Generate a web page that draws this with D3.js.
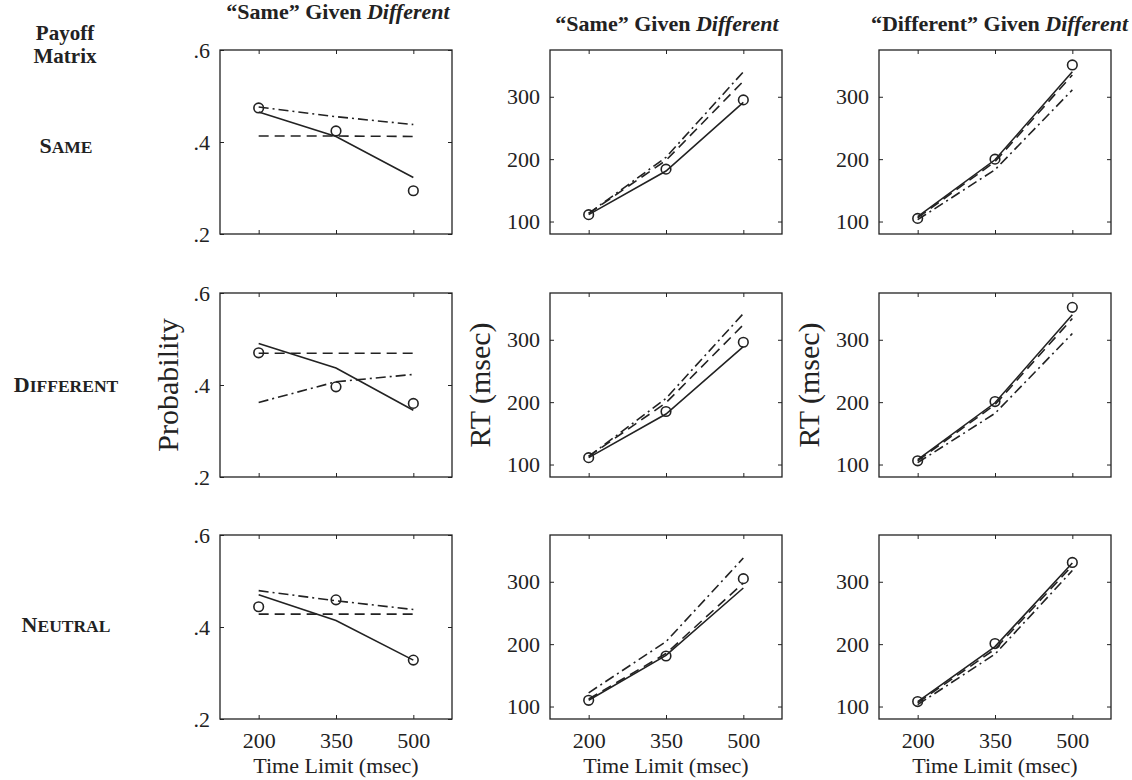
<!DOCTYPE html>
<html>
<head>
<meta charset="utf-8">
<script src="https://cdn.jsdelivr.net/npm/d3@7"></script>
<style>
  body { margin: 0; background: #fff; }
  svg text { font-family: "Liberation Serif", "Times New Roman", serif; fill: #222; }
</style>
</head>
<body>
<svg id="chart" width="1132" height="780"></svg>
<script>
const timeLimits = [200, 350, 500];
const payoffRows = ["Same", "Different", "Neutral"];
const columnTitles = [
  ["\u201CSame\u201D Given ", "Different"],
  ["\u201CSame\u201D Given ", "Different"],
  ["\u201CDifferent\u201D Given ", "Different"]
];
const probTicks = [0.2, 0.4, 0.6];
const rtTicks = [100, 200, 300];

// "Same" given different: probability (one row per payoff matrix)
const probObserved = [[0.474, 0.424, 0.294], [0.470, 0.396, 0.360], [0.444, 0.459, 0.328]];
const probSolid    = [[0.465, 0.412, 0.323], [0.490, 0.437, 0.345], [0.470, 0.414, 0.328]];
const probDashed   = [[0.413, 0.413, 0.412], [0.469, 0.469, 0.469], [0.428, 0.428, 0.428]];
const probDashDot  = [[0.476, 0.455, 0.438], [0.362, 0.407, 0.423], [0.479, 0.457, 0.438]];

// "Same" given different: RT
const rtSameObserved = [[111, 184, 295], [111, 185, 296], [110, 181, 305]];
const rtSameSolid    = [[111, 181, 291], [111, 181, 289], [110, 182, 290]];
const rtSameDashed   = [[113, 198, 325], [113, 199, 324], [112, 185, 298]];
const rtSameDashDot  = [[113, 203, 340], [113, 206, 342], [122, 204, 338]];

// "Different" given different: RT
const rtDiffObserved = [[105, 200, 351], [106, 201, 352], [108, 201, 331]];
const rtDiffSolid    = [[108, 199, 340], [108, 199, 340], [108, 196, 330]];
const rtDiffDashed   = [[106, 196, 335], [106, 196, 334], [106, 192, 326]];
const rtDiffDashDot  = [[103, 183, 311], [103, 182, 310], [103, 184, 318]];

const svg = d3.select("#chart");

const colLeft = [220, 550, 879];
const rowTop = [50, 293, 535];
const panelW = 232;
const panelH = 184;
const ink = "#222";

const x = d3.scaleLinear().domain([125, 575]).range([0, panelW]);
const yProb = d3.scaleLinear().domain([0.2, 0.6]).range([panelH, 0]);
const yRT = d3.scaleLinear().domain([80, 375]).range([panelH, 0]);

const columns = [
  { y: yProb, ticks: probTicks, fmt: d => d3.format(".1f")(d).replace(/^0/, ""),
    obs: probObserved, solid: probSolid, dashed: probDashed, dashdot: probDashDot },
  { y: yRT, ticks: rtTicks, fmt: d3.format("d"),
    obs: rtSameObserved, solid: rtSameSolid, dashed: rtSameDashed, dashdot: rtSameDashDot },
  { y: yRT, ticks: rtTicks, fmt: d3.format("d"),
    obs: rtDiffObserved, solid: rtDiffSolid, dashed: rtDiffDashed, dashdot: rtDiffDashDot }
];

const lineStyles = [
  { key: "solid", dash: null },
  { key: "dashed", dash: "10,6" },
  { key: "dashdot", dash: "10,4,2,4" }
];

columns.forEach((col, c) => {
  rowTop.forEach((top, r) => {
    const g = svg.append("g").attr("transform", `translate(${colLeft[c]},${top})`);
    const line = d3.line().x((d, i) => x(timeLimits[i])).y(d => col.y(d));

    // inward ticks on all four sides
    const left = g.append("g").call(d3.axisLeft(col.y).tickValues(col.ticks)
      .tickSizeInner(-4).tickSizeOuter(0).tickPadding(10).tickFormat(col.fmt));
    const right = g.append("g").attr("transform", `translate(${panelW},0)`)
      .call(d3.axisRight(col.y).tickValues(col.ticks).tickSizeInner(-4).tickSizeOuter(0).tickFormat(""));
    const top_ = g.append("g")
      .call(d3.axisTop(x).tickValues(timeLimits).tickSizeInner(-4).tickSizeOuter(0).tickFormat(""));
    const bottom = g.append("g").attr("transform", `translate(0,${panelH})`)
      .call(d3.axisBottom(x).tickValues(timeLimits).tickSizeInner(-4).tickSizeOuter(0)
        .tickPadding(13).tickFormat(r === 2 ? d3.format("d") : ""));
    [left, right, top_, bottom].forEach(a => {
      a.select(".domain").remove();
      a.selectAll("line").attr("stroke", ink).attr("stroke-width", 1);
      a.selectAll("text").attr("font-size", 22).attr("fill", ink)
        .style("font-family", "'Liberation Serif', serif");
    });

    g.append("rect")
      .attr("width", panelW).attr("height", panelH)
      .attr("fill", "none").attr("stroke", ink).attr("stroke-width", 1.3);

    lineStyles.forEach(s => {
      g.append("path")
        .datum(col[s.key][r])
        .attr("d", line)
        .attr("fill", "none")
        .attr("stroke", ink)
        .attr("stroke-width", 1.6)
        .attr("stroke-dasharray", s.dash);
    });

    g.selectAll(".obs")
      .data(col.obs[r])
      .join("circle")
        .attr("class", "obs")
        .attr("cx", (d, i) => x(timeLimits[i]))
        .attr("cy", d => col.y(d))
        .attr("r", 4.8)
        .attr("fill", "none")
        .attr("stroke", ink)
        .attr("stroke-width", 1.6);

    if (r === 2) {
      g.append("text")
        .attr("x", panelW / 2).attr("y", panelH + 54)
        .attr("text-anchor", "middle").attr("font-size", 22)
        .text("Time Limit (msec)");
    }
  });
});

// column titles
const titlePos = [
  { x: 338, y: 19, anchor: "middle" },
  { x: 667, y: 31, anchor: "middle" },
  { x: 1128, y: 31, anchor: "end" }
];
columnTitles.forEach((t, c) => {
  const txt = svg.append("text")
    .attr("x", titlePos[c].x).attr("y", titlePos[c].y)
    .attr("text-anchor", titlePos[c].anchor)
    .attr("font-size", 22).attr("font-weight", "bold");
  txt.append("tspan").text(t[0]);
  txt.append("tspan").attr("font-style", "italic").text(t[1]);
});

// y axis labels
svg.append("text")
  .attr("transform", `translate(178,${rowTop[1] + panelH / 2}) rotate(-90)`)
  .attr("text-anchor", "middle").attr("font-size", 30)
  .text("Probability");
[1, 2].forEach(c => {
  svg.append("text")
    .attr("transform", `translate(${colLeft[c] - 60},${rowTop[1] + panelH / 2}) rotate(-90)`)
    .attr("text-anchor", "middle").attr("font-size", 30)
    .text("RT (msec)");
});

// payoff matrix row labels
const header = svg.append("text")
  .attr("x", 65).attr("text-anchor", "middle")
  .attr("font-size", 21).attr("font-weight", "bold");
header.append("tspan").attr("x", 65).attr("y", 40).text("Payoff");
header.append("tspan").attr("x", 65).attr("y", 63).text("Matrix");

const rowLabelY = [153, 392, 632];
payoffRows.forEach((name, r) => {
  const t = svg.append("text")
    .attr("x", 66).attr("y", rowLabelY[r])
    .attr("text-anchor", "middle").attr("font-weight", "bold");
  t.append("tspan").attr("font-size", 22).text(name[0].toUpperCase());
  t.append("tspan").attr("font-size", 17.5).text(name.slice(1).toUpperCase());
});
</script>
</body>
</html>
